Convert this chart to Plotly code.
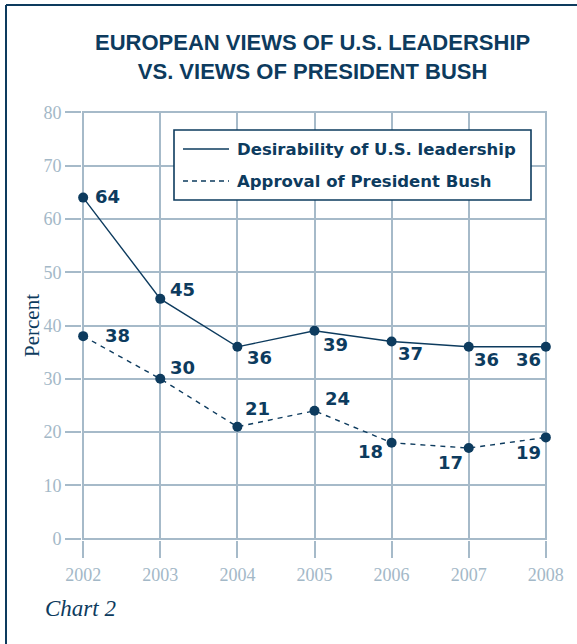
import plotly.graph_objects as go

# Survey results, percent
years = [2002, 2003, 2004, 2005, 2006, 2007, 2008]
leadership = [64, 45, 36, 39, 37, 36, 36]
bush_approval = [38, 30, 21, 24, 18, 17, 19]
y_ticks = [0, 10, 20, 30, 40, 50, 60, 70, 80]

series_names = ["Desirability of U.S. leadership", "Approval of President Bush"]
title_lines = ["EUROPEAN VIEWS OF U.S. LEADERSHIP", "VS. VIEWS OF PRESIDENT BUSH"]

NAVY = "#0d3b5e"
GRID = "#a6bac9"
TICKTXT = "#a3b8c7"

W, H = 577, 644
L, R, T, B = 82, 30, 111, 104
PW, PH = W - L - R, H - T - B

# small padding on the ranges so the outermost grid lines are kept
X_RANGE = [years[0] - 0.015, years[-1] + 0.015]
Y_RANGE = [y_ticks[0] - 0.25, y_ticks[-1] + 0.25]


def px_x(px):
    return (px - L) / PW


def px_y(py):
    return (H - B - py) / PH


fig = go.Figure()

fig.add_trace(go.Scatter(
    x=years, y=leadership, name=series_names[0], mode="lines+markers",
    line=dict(color=NAVY, width=1.4),
    marker=dict(color=NAVY, size=10),
    cliponaxis=False, showlegend=False,
))
fig.add_trace(go.Scatter(
    x=years, y=bush_approval, name=series_names[1], mode="lines+markers",
    line=dict(color=NAVY, width=1.4, dash="5px,5px"),
    marker=dict(color=NAVY, size=10),
    cliponaxis=False, showlegend=False,
))

# value label placement: (xanchor, xshift, yshift)
lead_pos = [("left", 10, 1), ("left", 8, 9), ("left", 8, -11), ("left", 6, -14),
            ("left", 4, -12), ("left", 3, -13), ("right", -3, -13)]
bush_pos = [("left", 20, 1), ("left", 8, 11), ("left", 6, 18), ("left", 8, 12),
            ("right", -7, -9), ("right", -4, -14), ("right", -3, -15)]

annotations = []
for vals, pos in ((leadership, lead_pos), (bush_approval, bush_pos)):
    for yr, v, (xa, xs, ys) in zip(years, vals, pos):
        annotations.append(dict(
            x=yr, y=v, xref="x", yref="y", text=f"<b>{v}</b>", showarrow=False,
            xanchor=xa, yanchor="middle", xshift=xs, yshift=ys,
            font=dict(family="DejaVu Sans", size=18, color=NAVY),
        ))

# title
annotations.append(dict(
    x=px_x(312), y=px_y(57), xref="paper", yref="paper",
    text="<b>" + "<br>".join(title_lines) + "</b>", showarrow=False,
    xanchor="center", yanchor="middle", align="center",
    font=dict(family="Liberation Sans", size=22, color=NAVY),
))

# axis title
annotations.append(dict(
    x=px_x(32), y=px_y(326), xref="paper", yref="paper", text="Percent",
    textangle=-90, showarrow=False, xanchor="center", yanchor="middle",
    font=dict(family="Liberation Serif", size=21, color=NAVY),
))

# caption
annotations.append(dict(
    x=px_x(43), y=px_y(608), xref="paper", yref="paper", text="<i>Chart 2</i>",
    showarrow=False, xanchor="left", yanchor="middle",
    font=dict(family="Liberation Serif", size=23, color=NAVY),
))

# legend box
LEG_X0, LEG_Y0, LEG_X1, LEG_Y1 = 174, 130, 531, 200
legend_rows = [149, 181]
shapes = [dict(
    type="rect", xref="paper", yref="paper",
    x0=px_x(LEG_X0), x1=px_x(LEG_X1), y0=px_y(LEG_Y1), y1=px_y(LEG_Y0),
    line=dict(color=NAVY, width=1.6), fillcolor="white", layer="above",
)]
for row_y, name, dash in zip(legend_rows, series_names, ["solid", "5px,4px"]):
    shapes.append(dict(
        type="line", xref="paper", yref="paper",
        x0=px_x(183), x1=px_x(229), y0=px_y(row_y), y1=px_y(row_y),
        line=dict(color=NAVY, width=1.4, dash=dash), layer="above",
    ))
    annotations.append(dict(
        x=px_x(235), y=px_y(row_y), xref="paper", yref="paper",
        text=f"<b>{name}</b>", showarrow=False, xanchor="left", yanchor="middle",
        font=dict(family="DejaVu Sans", size=16.5, color=NAVY),
    ))

# outer frame: top and left rules
shapes.append(dict(type="line", xref="paper", yref="paper",
                   x0=px_x(6), x1=px_x(W + 2), y0=px_y(5), y1=px_y(5),
                   line=dict(color=NAVY, width=2)))
shapes.append(dict(type="line", xref="paper", yref="paper",
                   x0=px_x(6), x1=px_x(6), y0=px_y(5), y1=px_y(H + 2),
                   line=dict(color=NAVY, width=2)))

fig.update_layout(
    width=W, height=H,
    margin=dict(l=L, r=R, t=T, b=B),
    paper_bgcolor="white", plot_bgcolor="white",
    showlegend=False,
    annotations=annotations, shapes=shapes,
    xaxis=dict(
        range=X_RANGE, tickvals=years, ticktext=[str(y) for y in years],
        showgrid=True, gridcolor=GRID, gridwidth=1.6,
        ticks="outside", ticklen=17, tickcolor=GRID, tickwidth=1.6,
        showline=False, zeroline=False, ticklabelstandoff=1,
        tickfont=dict(family="Liberation Serif", size=18, color=TICKTXT),
    ),
    yaxis=dict(
        range=Y_RANGE, tickvals=y_ticks,
        showgrid=True, gridcolor=GRID, gridwidth=1.6,
        ticks="outside", ticklen=16, tickcolor=GRID, tickwidth=1.6,
        showline=False, zeroline=True, zerolinecolor=GRID, zerolinewidth=1.6,
        tickfont=dict(family="Liberation Serif", size=18, color=TICKTXT),
    ),
)

fig.write_html("out.html")
